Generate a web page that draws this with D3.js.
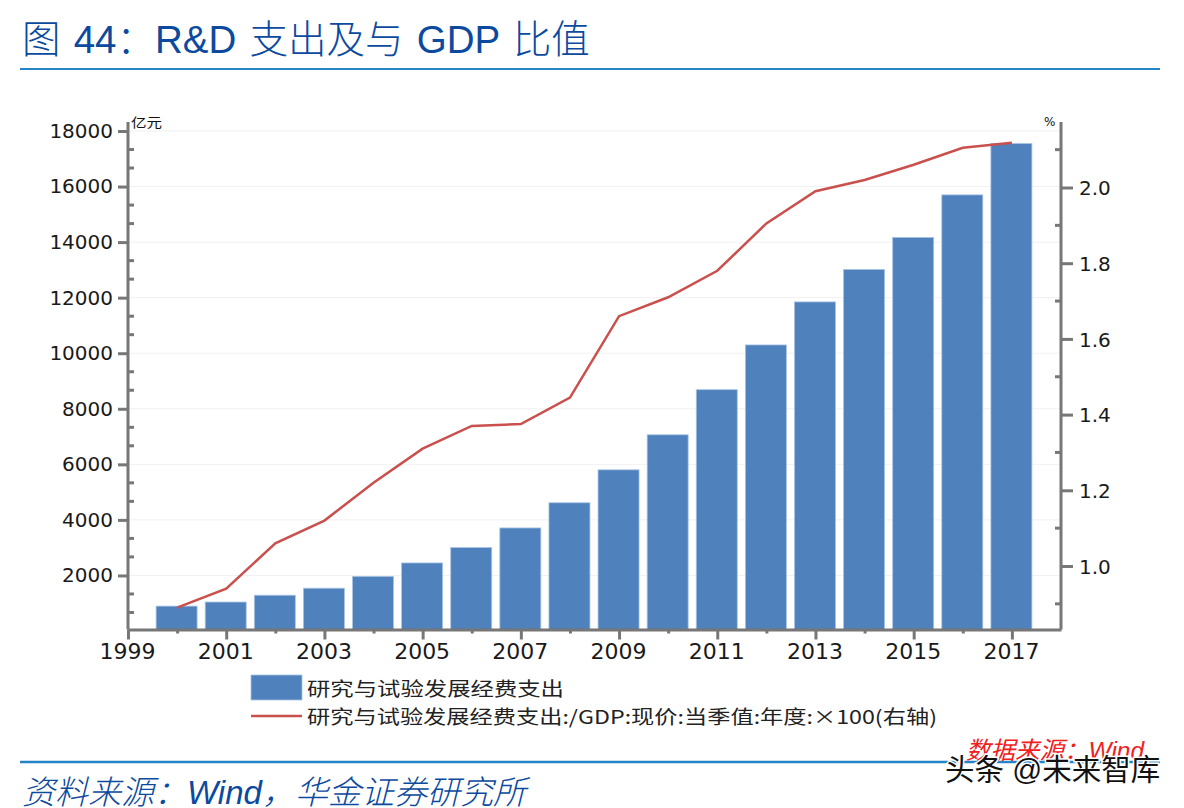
<!DOCTYPE html>
<html>
<head>
<meta charset="utf-8">
<script src="https://cdnjs.cloudflare.com/ajax/libs/d3/7.8.5/d3.min.js"></script>
<style>
html, body { margin: 0; padding: 0; background: #fff; overflow: hidden; }
svg { display: block; }
.axis path { stroke: #777; stroke-width: 3px; }
.axis line { stroke: #777; stroke-width: 3px; }
.axis text { font-family: "DejaVu Sans"; font-size: 20px; fill: #1a1a1a; }
</style>
</head>
<body>
<svg id="plot" width="1184" height="808"></svg>
<script>
const years = [2000, 2001, 2002, 2003, 2004, 2005, 2006, 2007, 2008, 2009, 2010, 2011, 2012, 2013, 2014, 2015, 2016, 2017]
const spending = [896, 1043, 1288, 1540, 1966, 2450, 3003, 3710, 4616, 5802, 7063, 8687, 10298, 11847, 13016, 14170, 15700, 17550]
const ratio = [0.89, 0.94, 1.06, 1.12, 1.22, 1.31, 1.37, 1.375, 1.445, 1.66, 1.71, 1.78, 1.905, 1.99, 2.02, 2.06, 2.105, 2.118]
const xTicks = [1999, 2000, 2001, 2002, 2003, 2004, 2005, 2006, 2007, 2008, 2009, 2010, 2011, 2012, 2013, 2014, 2015, 2016, 2017]
const leftTicks = [2000, 4000, 6000, 8000, 10000, 12000, 14000, 16000, 18000]
const leftMinor = [667, 1333, 2667, 3333, 4667, 5333, 6667, 7333, 8667, 9333, 10667, 11333, 12667, 13333, 14667, 15333, 16667, 17333]
const rightTicks = [1.0, 1.2, 1.4, 1.6, 1.8, 2.0]
const rightMinor = [0.9, 1.1, 1.3, 1.5, 1.7, 1.9, 2.1]
const barName = "研究与试验发展经费支出"
const lineName = "研究与试验发展经费支出:/GDP:现价:当季值:年度:×100(右轴)"

const svg = d3.select("#plot")
const plotLeft = 128
const plotRight = 1061
const plotBottom = 629.5
const blue = "#0b4a9e"
const ruleColor = "#2484c6"

const xScale = d3.scaleLinear().domain([1999, 2018]).range([plotLeft, plotRight])
const yLeft = d3.scaleLinear().domain([0, 18000]).range([631, 131])
const yRight = d3.scaleLinear().domain([1.0, 2.0]).range([566, 187.5])

// title and rules
svg.append("text")
    .attr("x", 22).attr("y", 53)
    .style("font-family", '"Liberation Sans","Noto Sans CJK SC"')
    .style("font-size", "38.5px")
    .style("font-weight", 300)
    .style("fill", blue)
    .style("word-spacing", "2.5px")
    .text("图 44：R&D 支出及与 GDP 比值")
svg.append("line").attr("x1", 20).attr("x2", 1160).attr("y1", 69).attr("y2", 69)
    .attr("stroke", ruleColor).attr("stroke-width", 2)
svg.append("line").attr("x1", 20).attr("x2", 1160).attr("y1", 762).attr("y2", 762)
    .attr("stroke", ruleColor).attr("stroke-width", 2.5)

// gridlines
svg.append("g").selectAll("line")
    .data(leftTicks)
    .enter()
    .append("line")
    .attr("x1", plotLeft).attr("x2", plotRight)
    .attr("y1", d => yLeft(d)).attr("y2", d => yLeft(d))
    .attr("stroke", "#f1f1f1").attr("stroke-width", 1)

// bars
const barWidth = 41
svg.append("g").selectAll("rect")
    .data(years)
    .enter()
    .append("rect")
    .attr("x", d => xScale(d) - barWidth / 2 - 0.5)
    .attr("width", barWidth)
    .attr("y", (d, i) => yLeft(spending[i]))
    .attr("height", (d, i) => plotBottom - yLeft(spending[i]))
    .attr("fill", "#4f81bd")
    .attr("stroke", "#a9c4e4")
    .attr("stroke-width", 0.8)

// axes
const axisB = d3.axisBottom(xScale)
    .tickValues(xTicks)
    .tickSize(10)
    .tickSizeOuter(0)
    .tickFormat(d => d % 2 === 1 ? d : "")
const xAxis = svg.append("g").attr("class", "axis")
    .attr("transform", "translate(0," + plotBottom + ")")
    .call(axisB)
xAxis.selectAll(".tick line").attr("y2", d => d % 2 === 1 ? 10 : 4)
xAxis.selectAll(".tick text").attr("y", 14).style("font-size", "22px").attr("dx", -1)

const axisL = d3.axisLeft(yLeft).tickValues(leftTicks).tickSize(10).tickSizeOuter(0).tickPadding(5)
    .tickFormat(d3.format("d"))
const leftAxis = svg.append("g").attr("class", "axis")
    .attr("transform", "translate(" + plotLeft + ",0)")
    .call(axisL)
leftAxis.select(".domain").attr("d", "M0," + plotBottom + "V122")
leftAxis.selectAll(".minor").data(leftMinor).enter().append("line")
    .attr("class", "minor")
    .attr("x1", 0).attr("x2", 6)
    .attr("y1", d => yLeft(d)).attr("y2", d => yLeft(d))

const axisR = d3.axisRight(yRight).tickValues(rightTicks).tickSize(12).tickSizeOuter(0).tickPadding(6)
    .tickFormat(d3.format(".1f"))
const rightAxis = svg.append("g").attr("class", "axis")
    .attr("transform", "translate(" + plotRight + ",0)")
    .call(axisR)
rightAxis.select(".domain").attr("d", "M0," + plotBottom + "V122")
rightAxis.selectAll(".tick text").attr("dy", "0.36em")
rightAxis.selectAll(".minor").data(rightMinor).enter().append("line")
    .attr("class", "minor")
    .attr("x1", 0).attr("x2", -6)
    .attr("y1", d => yRight(d)).attr("y2", d => yRight(d))

// ratio line
const line = d3.line()
    .x(d => xScale(d))
    .y((d, i) => yRight(ratio[i]))
svg.append("path")
    .attr("d", line(years))
    .attr("fill", "none")
    .attr("stroke", "#c9504d")
    .attr("stroke-width", 2.5)

// units
svg.append("text").attr("x", 131).attr("y", 127)
    .style("font-family", '"Noto Sans CJK SC"').style("font-size", "13px").style("fill", "#111")
    .attr("textLength", 31).attr("lengthAdjust", "spacingAndGlyphs")
    .text("亿元")
svg.append("text").attr("x", 1044).attr("y", 126)
    .style("font-family", '"DejaVu Sans"').style("font-size", "12px").style("fill", "#111")
    .text("%")

// legend
svg.append("rect").attr("x", 251).attr("y", 675).attr("width", 51).attr("height", 25)
    .attr("fill", "#4f81bd").attr("stroke", "#a9c4e4").attr("stroke-width", 0.8)
svg.append("line").attr("x1", 251).attr("x2", 302).attr("y1", 716).attr("y2", 716)
    .attr("stroke", "#c9504d").attr("stroke-width", 2.5)
svg.append("text").attr("x", 307).attr("y", 696)
    .style("font-family", '"Noto Sans CJK SC"').style("font-size", "19px").style("fill", "#222")
    .attr("textLength", 257).attr("lengthAdjust", "spacingAndGlyphs")
    .text(barName)
svg.append("text").attr("x", 307).attr("y", 724)
    .style("font-family", '"Noto Sans CJK SC"').style("font-size", "19px").style("fill", "#222")
    .attr("textLength", 630).attr("lengthAdjust", "spacingAndGlyphs")
    .text(lineName)

// source and overlays
svg.append("text").attr("x", 22).attr("y", 804)
    .style("font-family", '"Liberation Sans","Noto Sans CJK SC"')
    .style("font-size", "33px").style("font-style", "italic").style("font-weight", 300)
    .style("fill", blue)
    .text("资料来源：Wind，华金证券研究所")
svg.append("text").attr("x", 966).attr("y", 759)
    .style("font-family", '"Liberation Sans","Noto Sans CJK SC"')
    .style("font-size", "24.5px").style("font-style", "italic")
    .style("fill", "#f02020")
    .text("数据来源：Wind")
svg.append("text").attr("x", 945).attr("y", 780)
    .style("font-family", '"Liberation Sans","Noto Sans CJK SC"')
    .style("font-size", "29.5px")
    .style("fill", "#111")
    .style("stroke", "#fff").style("stroke-width", 3).style("paint-order", "stroke")
    .text("头条 @未来智库")
</script>
</body>
</html>
